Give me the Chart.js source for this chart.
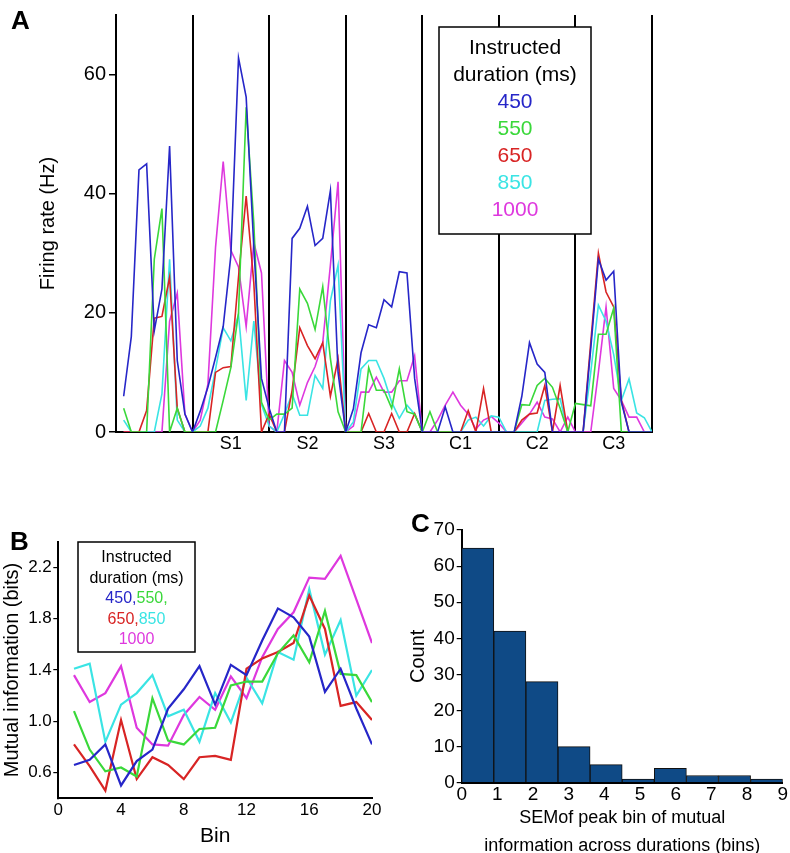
<!DOCTYPE html>
<html>
<head>
<meta charset="utf-8">
<script src="https://cdn.jsdelivr.net/npm/chart.js@4.4.1/dist/chart.umd.min.js"></script>
<style>
  body { margin: 0; background: #fff; }
  #page { position: relative; width: 790px; height: 853px; overflow: hidden; }
  canvas { position: absolute; }
  .panel { position: absolute; font: bold 26px 'Liberation Sans', Arial, sans-serif; color: #000; }
</style>
</head>
<body>
<div id="page">
  <canvas id="chartA" width="700" height="460" style="left:0;top:0"></canvas>
  <canvas id="chartB" width="400" height="353" style="left:0;top:500px"></canvas>
  <canvas id="chartC" width="390" height="353" style="left:400px;top:500px"></canvas>
  <div class="panel" style="left:11px;top:5px">A</div>
  <div class="panel" style="left:10px;top:526px">B</div>
  <div class="panel" style="left:411px;top:508px">C</div>
</div>
<script>
// durations et couleurs des séries
const durations = ['450', '550', '650', '850', '1000'];
const seriesColors = ['#2626c8', '#3ad83a', '#d82424', '#3ae4e4', '#de38de'];

// Panel A : taux de décharge, 7 segments de 10 bins
const segmentLabels = ['', 'S1', 'S2', 'S3', 'C1', 'C2', 'C3'];
const rateTicks = [0, 20, 40, 60];
const rate450 = [
  6, 16, 44, 45, 17, 24, 48, 12, 3, 0,
  3.5, 7.5, 12.5, 17.7, 29.6, 62.8, 56.2, 31, 9, 4,
  0, 0, 32.5, 34.2, 37.9, 31.3, 32.5, 40.5, 10, 0,
  3.9, 13.3, 18, 17.5, 22.2, 21, 26.9, 26.7, 9, 0,
  0, 0, 4.2, 0, 0, 0, 0, 0, 0, 0,
  0, 0, 6, 15, 11.4, 10, 0, 0, 0, 0,
  0, 14, 29, 25.5, 27, 5, 0, 0, 0, 0
];
const rate550 = [
  4, 0, 0, 0, 29, 37.5, 0, 4, 0, 0,
  0, 0, 0, 5.3, 10.8, 20, 54.5, 35, 5, 2,
  3, 3, 4, 24, 21.6, 17.2, 24.4, 12.3, 3.4, 0,
  0, 0, 10.8, 7, 7, 4, 10.6, 3.4, 3, 0,
  3.4, 0, 0, 0, 0, 0, 0, 0, 0, 0,
  0, 0, 4.6, 4.5, 7.8, 9, 7.5, 4, 0, 4.8,
  4.6, 4.4, 16.4, 16.4, 20.8, 0, 0, 0, 0, 0
];
const rate650 = [
  0, 0, 0, 3.6, 19.1, 19.4, 26, 4, 0, 0,
  0, 0, 10, 10.8, 11, 26, 39.6, 25, 0, 3,
  0, 0, 7, 17.5, 14.5, 12.3, 15, 6, 12.3, 0,
  0, 0, 3.1, 0, 0, 3.1, 0, 0, 3.1, 0,
  0, 0, 0, 0, 0, 3.6, 0, 7.3, 0, 0,
  0, 0, 2, 3, 3.2, 7.8, 0, 7.8, 0, 0,
  0, 15, 30, 23.5, 21, 5.3, 0, 0, 0, 0
];
const rate850 = [
  2, 0, 0, 0, 0, 6.4, 29, 2, 0, 0,
  1, 4, 10.5, 17.5, 15.3, 19.7, 5.3, 18.6, 4.6, 1,
  0, 3, 6.4, 2.8, 2.8, 9.5, 7.3, 22, 28, 0,
  1.7, 10.6, 12, 12, 9, 5, 2.3, 4.5, 3, 0,
  0, 0, 0, 0, 0, 2, 2.5, 1, 2.7, 2.5,
  0, 0, 0, 0, 0, 5.3, 5.5, 5.6, 0, 0,
  0, 10, 21.3, 18.6, 13, 5.3, 8.9, 3.2, 2.4, 0
];
const rate1000 = [
  0, 0, 0, 0, 0, 0, 18.6, 23.3, 3, 0,
  2, 8, 31, 45.4, 30.5, 27.7, 17.7, 31.8, 26.7, 1,
  0, 12, 10, 4.5, 8.3, 11, 15, 28, 42, 0,
  1, 6.7, 6.7, 9.2, 6.7, 6.7, 8.6, 8.6, 12.8, 0,
  0, 2, 4.5, 6.7, 4.5, 3, 0.5, 2, 2.6, 1.5,
  0, 0, 1.5, 3, 5, 2.5, 2.2, 0, 2.5, 0,
  0, 0, 10, 21, 7.3, 5.3, 2.5, 2.5, 0, 0
];

// Panel B : information mutuelle par bin
const bins = [1, 2, 3, 4, 5, 6, 7, 8, 9, 10, 11, 12, 13, 14, 15, 16, 17, 18, 19, 20];
const binTicks = [0, 4, 8, 12, 16, 20];
const miTicks = [0.6, 1.0, 1.4, 1.8, 2.2];
const mi450 = [0.66, 0.70, 0.82, 0.50, 0.69, 0.78, 1.10, 1.25, 1.43, 1.13, 1.44, 1.36, 1.63, 1.88, 1.81, 1.66, 1.23, 1.41, 1.10, 0.82];
const mi550 = [1.08, 0.78, 0.61, 0.64, 0.57, 1.18, 0.85, 0.82, 0.94, 0.95, 1.28, 1.31, 1.31, 1.53, 1.67, 1.46, 1.86, 1.37, 1.36, 1.15];
const mi650 = [0.82, 0.65, 0.46, 1.01, 0.55, 0.72, 0.66, 0.55, 0.72, 0.73, 0.70, 1.41, 1.49, 1.54, 1.61, 1.98, 1.72, 1.12, 1.15, 1.01];
const mi850 = [1.41, 1.45, 0.84, 1.13, 1.22, 1.36, 1.04, 1.09, 0.84, 1.22, 0.99, 1.34, 1.14, 1.54, 1.48, 2.03, 1.52, 1.79, 1.20, 1.40];
const mi1000 = [1.36, 1.15, 1.22, 1.43, 0.95, 0.82, 0.81, 1.05, 1.19, 1.09, 1.35, 1.18, 1.50, 1.72, 1.85, 2.12, 2.11, 2.29, 1.95, 1.61];

// Panel C : histogramme du SEM
const semBinStart = [0, 0.9, 1.8, 2.7, 3.6, 4.5, 5.4, 6.3, 7.2, 8.1];
const semBinWidth = 0.9;
const semCounts = [65, 42, 28, 10, 5, 1, 4, 2, 2, 1];

Chart.defaults.font.family = "'Liberation Sans', Arial, sans-serif";
Chart.defaults.color = '#000';

// encadré de légende dessiné par-dessus les courbes
const boxLegend = {
  id: 'boxLegend',
  afterDatasetsDraw(chart, args, opts) {
    const ctx = chart.ctx;
    const b = opts.box;
    ctx.save();
    ctx.fillStyle = '#fff';
    ctx.fillRect(b.x, b.y, b.w, b.h);
    ctx.strokeStyle = '#000';
    ctx.lineWidth = 1.5;
    ctx.strokeRect(b.x, b.y, b.w, b.h);
    ctx.font = opts.font;
    ctx.textBaseline = 'middle';
    ctx.textAlign = 'left';
    const cx = b.x + b.w / 2;
    opts.lines.forEach((parts, i) => {
      const widths = parts.map(p => ctx.measureText(p[0]).width);
      let x = cx - widths.reduce((a, c) => a + c, 0) / 2;
      const y = opts.firstLine + i * opts.lineGap;
      parts.forEach((p, j) => {
        ctx.fillStyle = p[1];
        ctx.fillText(p[0], x, y);
        x += widths[j];
      });
    });
    ctx.restore();
  }
};

// Panel A
const seriesA = [rate450, rate550, rate650, rate850, rate1000];
new Chart(document.getElementById('chartA'), {
  type: 'line',
  data: {
    datasets: seriesA.map((arr, i) => ({
      label: durations[i],
      data: arr.map((v, k) => ({ x: k + 1, y: v })),
      borderColor: seriesColors[i],
      borderWidth: 1.6,
      pointRadius: 0,
      tension: 0,
      fill: false
    }))
  },
  options: {
    responsive: false,
    animation: false,
    layout: { padding: { left: 0, top: 12, right: 48, bottom: 0 } },
    plugins: {
      legend: { display: false },
      tooltip: { enabled: false },
      boxLegend: {
        box: { x: 439, y: 27, w: 152, h: 207 },
        font: "21px 'Liberation Sans', Arial, sans-serif",
        firstLine: 48, lineGap: 27,
        lines: [[['Instructed', '#000']], [['duration (ms)', '#000']]]
          .concat(durations.map((d, i) => [[d, seriesColors[i]]]))
      }
    },
    scales: {
      x: {
        type: 'linear', min: 0, max: 70,
        afterBuildTicks: s => { s.ticks = segmentLabels.flatMap((_, i) => [{ value: i * 10 }, { value: i * 10 + 5 }]).concat([{ value: 70 }]); },
        afterFit: s => { s.height = 28; },
        ticks: {
          autoSkip: false, maxRotation: 0, padding: 1, font: { size: 18 },
          callback: v => (v % 10 === 5 ? segmentLabels[(v - 5) / 10] : '')
        },
        grid: {
          color: c => (c.tick && c.tick.value % 10 === 0 ? '#000' : 'rgba(0,0,0,0)'),
          lineWidth: 2, drawTicks: false
        },
        border: { display: true, color: '#000', width: 2 }
      },
      y: {
        min: 0, max: 70,
        afterBuildTicks: s => { s.ticks = rateTicks.map(v => ({ value: v })); },
        afterFit: s => { s.width = 116; },
        ticks: { padding: 3, font: { size: 20 } },
        grid: { drawOnChartArea: false, drawTicks: true, tickLength: 7, color: '#000', lineWidth: 1.5 },
        border: { display: true, color: '#000', width: 2 },
        title: { display: true, text: 'Firing rate (Hz)', font: { size: 20 }, padding: { top: 36, bottom: 0 } }
      }
    }
  },
  plugins: [boxLegend]
});

// Panel B
const seriesB = [mi450, mi550, mi650, mi850, mi1000];
new Chart(document.getElementById('chartB'), {
  type: 'line',
  data: {
    datasets: seriesB.map((arr, i) => ({
      label: durations[i],
      data: arr.map((v, k) => ({ x: bins[k], y: v })),
      borderColor: seriesColors[i],
      borderWidth: 2.2,
      pointRadius: 0,
      tension: 0,
      fill: false
    }))
  },
  options: {
    responsive: false,
    animation: false,
    layout: { padding: { left: 0, top: 41.7, right: 28, bottom: 0 } },
    plugins: {
      legend: { display: false },
      tooltip: { enabled: false },
      boxLegend: {
        box: { x: 78, y: 42, w: 117, h: 110 },
        font: "16px 'Liberation Sans', Arial, sans-serif",
        firstLine: 58, lineGap: 20.5,
        lines: [
          [['Instructed', '#000']],
          [['duration (ms)', '#000']],
          [[durations[0] + ',', seriesColors[0]], [durations[1] + ',', seriesColors[1]]],
          [[durations[2] + ',', seriesColors[2]], [durations[3], seriesColors[3]]],
          [[durations[4], seriesColors[4]]]
        ]
      }
    },
    scales: {
      x: {
        type: 'linear', min: 0, max: 20,
        afterBuildTicks: s => { s.ticks = binTicks.map(v => ({ value: v })); },
        afterFit: s => { s.height = 54.7; },
        ticks: { padding: 2, font: { size: 17 }, maxRotation: 0 },
        grid: { display: true, drawOnChartArea: false, drawTicks: false },
        border: { display: true, color: '#000', width: 2 },
        title: { display: true, text: 'Bin', font: { size: 21 }, padding: { top: 0, bottom: 3.9 } }
      },
      y: {
        min: 0.4, max: 2.4,
        afterBuildTicks: s => { s.ticks = miTicks.map(v => ({ value: v })); },
        afterFit: s => { s.width = 58.3; },
        ticks: { padding: 1.5, font: { size: 17 }, callback: v => v.toFixed(1) },
        grid: { drawOnChartArea: false, drawTicks: true, tickLength: 5, color: '#000', lineWidth: 1.2 },
        border: { display: true, color: '#000', width: 2 },
        title: { display: true, text: 'Mutual information (bits)', font: { size: 20 }, padding: { top: 0, bottom: 0 } }
      }
    }
  },
  plugins: [boxLegend]
});

// Panel C
new Chart(document.getElementById('chartC'), {
  type: 'bar',
  data: {
    datasets: [{
      label: 'Count',
      data: semBinStart.map((s, i) => ({ x: s + semBinWidth / 2, y: semCounts[i] })),
      backgroundColor: '#0f4a86',
      borderColor: '#111',
      borderWidth: 1,
      barPercentage: 1,
      categoryPercentage: 1
    }]
  },
  options: {
    responsive: false,
    animation: false,
    layout: { padding: { left: 0, top: 30, right: 7.3, bottom: 0 } },
    plugins: { legend: { display: false }, tooltip: { enabled: false } },
    scales: {
      x: {
        type: 'linear', min: 0, max: 9, offset: false,
        ticks: { stepSize: 1, padding: 1, font: { size: 19 }, maxRotation: 0 },
        afterFit: s => { s.height = 70.3; },
        grid: { display: true, drawOnChartArea: false, drawTicks: false, offset: false },
        border: { display: true, color: '#000', width: 2 },
        title: {
          display: true,
          text: ['SEMof peak bin of mutual', 'information across durations (bins)'],
          font: { size: 18, lineHeight: 1.58 },
          padding: { top: 0, bottom: -7.7 }
        }
      },
      y: {
        min: 0, max: 70,
        ticks: { stepSize: 10, padding: 2, font: { size: 19 } },
        afterFit: s => { s.width = 61.7; },
        grid: { drawOnChartArea: false, drawTicks: true, tickLength: 5, color: '#000', lineWidth: 1.2 },
        border: { display: true, color: '#000', width: 2 },
        title: { display: true, text: 'Count', font: { size: 20 }, padding: { top: 6, bottom: 0 } }
      }
    }
  }
});
</script>
</body>
</html>
